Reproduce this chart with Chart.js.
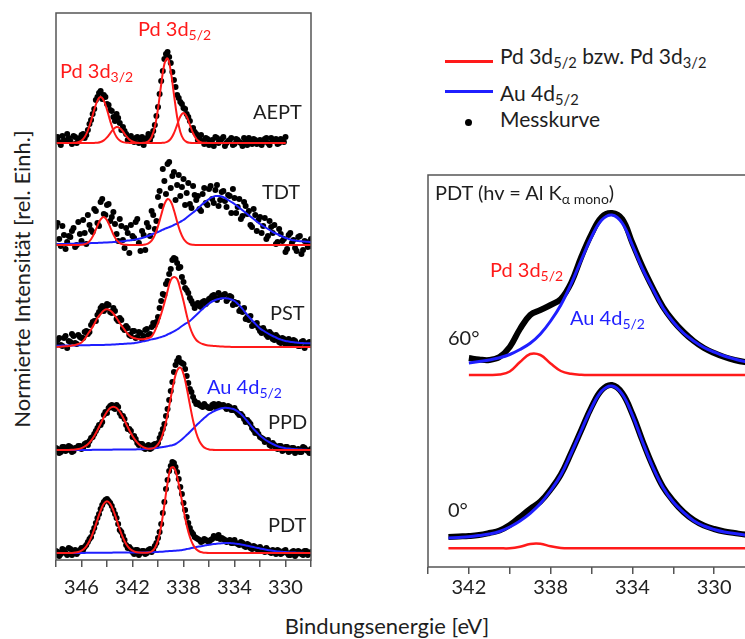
<!DOCTYPE html>
<html lang="de">
<head>
<meta charset="utf-8">
<title>XPS Pd 3d / Au 4d</title>
<script src="https://cdn.jsdelivr.net/npm/chart.js@4.4.1/dist/chart.umd.min.js"></script>
<style>
  html, body { margin: 0; padding: 0; width: 745px; height: 639px; overflow: hidden; background: #fff; }
  body { position: relative; font-family: Lato, "Open Sans", sans-serif; color: #1e1e1e; }
  canvas { position: absolute; }
  #left { left: 47px; top: 8px; }
  #right { left: 423px; top: 170px; }
  .t { position: absolute; white-space: nowrap; font-size: 20px; line-height: 20px; }
  .t sub { font-size: 0.7em; vertical-align: -0.3em; line-height: 0; }
  .lg { font-size: 21px; line-height: 21px; }
  .red { color: #ff1a1a; }
  .blue { color: #1f1fff; }
  .bar { position: absolute; height: 3px; width: 48px; left: 445px; }
  #ytitle { position: absolute; left: -178px; top: 268px; width: 400px; text-align: center;
            font-size: 22px; line-height: 22px; transform: rotate(-90deg); }
  #xtitle { position: absolute; left: 187px; top: 615px; width: 400px; text-align: center;
            font-size: 22px; line-height: 22px; }
</style>
</head>
<body>
<canvas id="left" width="273" height="592"></canvas>
<canvas id="right" width="337" height="437"></canvas>

<div id="ytitle">Normierte Intensität [rel. Einh.]</div>
<div id="xtitle">Bindungsenergie [eV]</div>

<!-- linke Seite -->
<div class="t red" style="left:138px; top:18px">Pd 3d<sub>5/2</sub></div>
<div class="t red" style="left:60px; top:60px">Pd 3d<sub>3/2</sub></div>
<div class="t" style="left:253px; top:101px">AEPT</div>
<div class="t" style="left:262px; top:181px">TDT</div>
<div class="t" style="left:270px; top:302px">PST</div>
<div class="t blue" style="left:207px; top:376px">Au 4d<sub>5/2</sub></div>
<div class="t" style="left:268px; top:411px">PPD</div>
<div class="t" style="left:268px; top:514px">PDT</div>

<!-- Legende -->
<div class="bar" style="top:60px; background:#ff1a1a"></div>
<div class="bar" style="top:90px; background:#1f1fff"></div>
<div style="position:absolute; left:465px; top:119px; width:7px; height:7px; border-radius:50%; background:#000"></div>
<div class="t lg" style="left:500px; top:45px">Pd 3d<sub>5/2</sub> bzw. Pd 3d<sub>3/2</sub></div>
<div class="t lg" style="left:500px; top:82px">Au 4d<sub>5/2</sub></div>
<div class="t lg" style="left:500px; top:108px">Messkurve</div>

<!-- rechte Seite -->
<div class="t" style="left:435px; top:182px">PDT (hv = Al K<sub>α mono</sub>)</div>
<div class="t red" style="left:490px; top:259px">Pd 3d<sub>5/2</sub></div>
<div class="t blue" style="left:570px; top:307px">Au 4d<sub>5/2</sub></div>
<div class="t" style="left:448px; top:327px">60°</div>
<div class="t" style="left:448px; top:499px">0°</div>

<script>
// Bindungsenergie (eV), linke Seite: 348 ... 328 in 0.25er Schritten
const energyLeft = [348,
  347.75, 347.5, 347.25, 347, 346.75, 346.5, 346.25, 346,
  345.75, 345.5, 345.25, 345, 344.75, 344.5, 344.25, 344,
  343.75, 343.5, 343.25, 343, 342.75, 342.5, 342.25, 342,
  341.75, 341.5, 341.25, 341, 340.75, 340.5, 340.25, 340,
  339.75, 339.5, 339.25, 339, 338.75, 338.5, 338.25, 338,
  337.75, 337.5, 337.25, 337, 336.75, 336.5, 336.25, 336,
  335.75, 335.5, 335.25, 335, 334.75, 334.5, 334.25, 334,
  333.75, 333.5, 333.25, 333, 332.75, 332.5, 332.25, 332,
  331.75, 331.5, 331.25, 331, 330.75, 330.5, 330.25, 330,
  329.75, 329.5, 329.25, 329, 328.75, 328.5, 328.25, 328];

// Zwischenpunkte der Messkurven
const energyHalf = [
  347.875, 347.625, 347.375, 347.125, 346.875, 346.625, 346.375, 346.125,
  345.875, 345.625, 345.375, 345.125, 344.875, 344.625, 344.375, 344.125,
  343.875, 343.625, 343.375, 343.125, 342.875, 342.625, 342.375, 342.125,
  341.875, 341.625, 341.375, 341.125, 340.875, 340.625, 340.375, 340.125,
  339.875, 339.625, 339.375, 339.125, 338.875, 338.625, 338.375, 338.125,
  337.875, 337.625, 337.375, 337.125, 336.875, 336.625, 336.375, 336.125,
  335.875, 335.625, 335.375, 335.125, 334.875, 334.625, 334.375, 334.125,
  333.875, 333.625, 333.375, 333.125, 332.875, 332.625, 332.375, 332.125,
  331.875, 331.625, 331.375, 331.125, 330.875, 330.625, 330.375, 330.125,
  329.875, 329.625, 329.375, 329.125, 328.875, 328.625, 328.375, 328.125];

// vertikaler Versatz der einzelnen Spektren
const offsetsLeft = { AEPT: 41.7, TDT: 31.5, PST: 21.3, PPD: 11.0, PDT: 0.7 };

// AEPT (nur bis 330 eV gemessen)
const aeptFitA = [0,
  0, 0, 0, 0,  0.01, 0.03, 0.09, 0.25,  0.6, 1.25, 2.21, 3.32,  4.24, 4.6, 4.24, 3.32,
  2.21, 1.25, 0.6, 0.25,  0.09, 0.03, 0.01, 0,  0, 0, 0.01, 0.04,  0.17, 0.6, 1.6, 3.44,
  5.85, 7.9, 8.46, 7.2,  4.86, 2.6, 1.1, 0.37,  0.1, 0.02, 0, 0,  0, 0, 0, 0,
  0, 0, 0, 0,  0, 0, 0, 0,  0, 0, 0, 0,  0, 0, 0, 0,  0, 0, 0, 0,  0, 0, 0, 0];
const aeptFitB = [0,
  0, 0, 0, 0,  0, 0, 0, 0,  0, 0, 0, 0.01,  0.03, 0.1, 0.26, 0.56,
  0.97, 1.38, 1.59, 1.5,  1.15, 0.71, 0.36, 0.15,  0.05, 0.01, 0, 0,  0, 0, 0, 0,
  0.01, 0.03, 0.13, 0.41,  0.98, 1.82, 2.65, 3.0,  2.65, 1.82, 0.98, 0.41,  0.13, 0.03, 0.01, 0,
  0, 0, 0, 0,  0, 0, 0, 0,  0, 0, 0, 0,  0, 0, 0, 0,  0, 0, 0, 0,  0, 0, 0, 0];
const aeptDots = [0.4,
  0.1, 0.7, 0.2, 0.5,  -0.1, 0.6, 0.3, 0.8,  0.5, 1.3, 2.3, 3.4,  4.6, 5.2, 4.8, 3.9,
  3.3, 2.6, 2.9, 2.0,  1.6, 0.9, 0.6, 0.2,  0.5, 0.0, 0.6, 0.3,  0.9, 0.7, 1.8, 3.6,
  6.2, 8.4, 9.1, 8.0,  6.3, 4.8, 4.1, 3.5,  2.9, 2.2, 1.5, 0.9,  0.6, 0.2, 0.5, -0.2,
  0.3, 0.6, 0.0, 0.4,  -0.3, 0.2, 0.5, -0.1,  0.3, 0.0, 0.5, -0.2,  0.2, 0.4, -0.1, 0.3,
  0.1, 0.5, -0.2, 0.2,  0.4, 0.0, 0.3, 0.6];
const aeptDotsHalf = [
  0.6, -0.2, 0.3, 0.9,  0.2, 0.7, 0.0, 0.5,  0.9, 0.8, 1.9, 2.9,  4.3, 5.0, 4.4, 4.6,
  3.8, 3.2, 2.2, 2.5,  1.3, 1.2, 0.3, 0.7,  0.1, 0.6, 0.2, -0.2,  0.5, 0.3, 1.2, 2.7,
  4.9, 7.2, 8.9, 8.6,  7.1, 5.6, 4.5, 3.9,  3.4, 2.6, 1.3, 1.1,  0.3, 0.8, -0.1, 0.4,
  0.1, -0.3, 0.5, 0.2,  0.6, 0.0, 0.3, -0.2,  0.4, 0.1, -0.3, 0.2,  0.5, -0.1, 0.3, 0.1,
  -0.2, 0.4, 0.0, 0.5,  0.2, -0.1, 0.4, 0.1];

// TDT
const tdtRed = [0,
  0, 0, 0, 0,  0, 0, 0, 0.02,  0.08, 0.23, 0.57, 1.16,  1.92, 2.56, 2.8, 2.48,
  1.79, 1.05, 0.5, 0.19,  0.06, 0.02, 0, 0,  0, 0, 0, 0.05,  0.16, 0.43, 0.99, 1.89,
  3.0, 4.06, 4.6, 4.35,  3.47, 2.33, 1.32, 0.62,  0.25, 0.08, 0.02, 0,  0, 0, 0, 0,
  0, 0, 0, 0,  0, 0, 0, 0,  0, 0, 0, 0,  0, 0, 0, 0,  0, 0, 0, 0,  0, 0, 0, 0,
  0, 0, 0, 0,  0, 0, 0, 0];
const tdtBlue = [0.1,
  0.1, 0.11, 0.11, 0.12,  0.13, 0.14, 0.14, 0.15,  0.16, 0.18, 0.19, 0.2,  0.21, 0.22, 0.24, 0.25,
  0.27, 0.3, 0.32, 0.35,  0.38, 0.42, 0.46, 0.5,  0.56, 0.62, 0.7, 0.8,  0.92, 1.05, 1.18, 1.3,
  1.45, 1.6, 1.72, 1.85,  2.0, 2.15, 2.32, 2.5,  2.75, 3.0, 3.25, 3.5,  3.8, 4.1, 4.35, 4.6,
  4.78, 4.9, 4.9, 4.85,  4.7, 4.5, 4.3, 4.1,  3.85, 3.6, 3.35, 3.1,  2.85, 2.6, 2.35, 2.1,
  1.9, 1.7, 1.5, 1.3,  1.15, 1.0, 0.85, 0.7,  0.6, 0.5, 0.45, 0.4,  0.37, 0.35, 0.32, 0.3];
const tdtDots = [1.8,
  0.6, 1.9, -0.4, 0.9,  1.4, -0.2, 2.3, 0.4,  1.2, 3.0, 1.5, 3.6,  2.2, 4.3, 3.1, 4.0,
  2.4, 3.3, 1.1, 2.6,  0.5, 1.7, -0.8, 0.9,  2.3, 0.2, 1.4, -0.5,  1.8, 3.4, 1.6, 4.8,
  3.9, 6.4, 8.1, 5.7,  7.3, 6.0, 4.9, 6.6,  5.2, 4.1, 5.9, 4.5,  3.6, 5.1, 4.2, 5.6,
  4.6, 5.5, 3.9, 5.3,  4.4, 5.0, 3.2, 4.7,  3.8, 2.6, 4.3, 3.1,  2.0, 3.6, 1.4, 2.8,
  1.9, 0.6, 2.4, 1.2,  0.1, 1.6, 0.4, -0.7,  1.0, 0.2, -0.3, 0.8,  -0.9, 0.4, -0.2, 0.6];
const tdtDotsHalf = [
  2.2, -0.1, 1.0, 0.3,  0.8, 1.7, 0.0, 1.1,  2.5, 0.1, 2.0, 1.3,  3.4, 1.9, 4.6, 3.0,
  4.1, 2.8, 2.1, 0.4,  1.9, -0.3, 1.2, 2.0,  0.7, 2.6, -0.6, 1.0,  2.2, 0.9, 3.0, 2.4,
  5.4, 7.6, 5.1, 8.3,  6.9, 4.5, 7.0, 5.8,  4.0, 6.2, 3.7, 5.0,  4.9, 3.4, 5.7, 4.0,
  5.9, 4.2, 6.0, 4.5,  5.4, 3.8, 4.9, 5.6,  3.2, 4.6, 2.9, 3.9,  3.4, 1.8, 3.0, 2.5,
  1.2, 2.7, 0.9, 1.8,  2.0, 0.3, 1.1, 0.6,  -0.4, 1.2, 0.5, -0.6,  0.9, -0.5, 0.3, -0.1];

// PST
const pstRed = [0,
  0.02, 0.05, 0.07, 0.1,  0.15, 0.2, 0.3, 0.45,  0.8, 1.3, 1.75, 2.3,  2.9, 3.3, 3.65, 3.77,
  3.65, 3.35, 2.9, 2.4,  1.95, 1.5, 1.15, 0.95,  0.85, 0.78, 0.77, 0.82,  0.9, 1.05, 1.6, 2.4,
  3.3, 4.4, 5.6, 6.7,  7.0, 6.8, 5.8, 4.6,  3.2, 2.0, 1.2, 0.7,  0.45, 0.3, 0.2, 0.15,
  0.12, 0.09, 0.07, 0.05,  0.03, 0.02, 0.01, 0,  0, 0, 0, 0,  0, 0, 0, 0,  0, 0, 0, 0,
  0, 0, 0, 0,  0, 0, 0, 0,  0, 0, 0, 0];
const pstBlue = [0.13,
  0.13, 0.14, 0.14, 0.15,  0.15, 0.16, 0.17, 0.17,  0.18, 0.18, 0.19, 0.19,  0.2, 0.21, 0.21, 0.22,
  0.23, 0.25, 0.27, 0.29,  0.31, 0.33, 0.35, 0.37,  0.42, 0.48, 0.54, 0.6,  0.68, 0.76, 0.83, 0.9,
  1.0, 1.1, 1.25, 1.4,  1.57, 1.75, 1.97, 2.2,  2.4, 2.6, 2.9, 3.2,  3.5, 3.8, 4.08, 4.35,
  4.55, 4.7, 4.8, 4.87,  4.88, 4.85, 4.75, 4.6,  4.32, 4.0, 3.6, 3.2,  2.85, 2.5, 2.17, 1.85,
  1.65, 1.45, 1.27, 1.1,  0.95, 0.8, 0.7, 0.6,  0.55, 0.5, 0.46, 0.42,  0.4, 0.38, 0.37, 0.37];
const pstDots = [0.3,
  0.9, 0.1, 1.1, 0.6,  1.3, 0.4, 1.2, 0.9,  1.5, 1.3, 2.2, 2.6,  3.2, 3.9, 3.6, 4.3,
  3.5, 3.9, 2.8, 2.9,  1.9, 2.1, 1.2, 1.6,  0.9, 1.5, 0.8, 1.7,  1.2, 2.0, 2.2, 3.0,
  4.6, 5.2, 6.6, 7.8,  8.9, 8.4, 8.0, 6.5,  5.7, 4.9, 4.3, 4.2,  4.1, 4.5, 4.3, 4.8,
  5.1, 4.9, 5.4, 5.1,  5.3, 4.8, 5.0, 4.5,  4.4, 3.8, 3.9, 3.0,  3.1, 2.3, 2.4, 1.6,
  1.9, 1.2, 1.5, 0.8,  1.2, 0.5, 0.9, 0.3,  0.8, 0.2, 0.6, 0.1,  0.5, -0.1, 0.4, 0.2];
const pstDotsHalf = [
  0.7, 0.2, 0.9, -0.1,  0.5, 1.1, 0.3, 1.0,  0.9, 1.6, 1.5, 2.5,  2.6, 3.5, 4.1, 3.8,
  4.2, 3.4, 3.6, 2.6,  2.7, 1.7, 1.9, 1.1,  1.6, 1.0, 1.4, 1.1,  1.8, 1.3, 2.4, 2.5,
  3.9, 5.3, 6.3, 7.3,  8.7, 8.8, 7.9, 7.0,  5.9, 5.4, 4.6, 3.9,  4.4, 4.0, 4.6, 4.5,
  4.9, 5.2, 4.7, 5.0,  5.2, 4.6, 5.1, 4.2,  4.3, 3.6, 3.5, 2.8,  2.7, 2.1, 2.2, 1.9,
  1.4, 1.6, 1.0, 1.3,  0.7, 1.0, 0.4, 0.8,  0.5, 0.2, 0.7, 0.3,  0.1, 0.6, 0.2, 0.5];

// PPD
const ppdRed = [0,
  0, 0, 0, 0,  0.02, 0.05, 0.1, 0.19,  0.35, 0.58, 0.94, 1.41,  1.98, 2.63, 3.27, 3.82,
  4.2, 4.33, 4.2, 3.82,  3.27, 2.63, 1.98, 1.41,  0.94, 0.58, 0.35, 0.2,  0.13, 0.14, 0.25, 0.56,
  1.15, 2.14, 3.55, 5.23,  6.84, 7.96, 8.25, 7.6,  6.23, 4.54, 2.94, 1.7,  0.87, 0.4, 0.16, 0.06,
  0.02, 0, 0, 0,  0, 0, 0, 0,  0, 0, 0, 0,  0, 0, 0, 0,  0, 0, 0, 0,  0, 0, 0, 0,
  0, 0, 0, 0,  0, 0, 0, 0];
const ppdBlue = [0,
  0, 0, 0, 0,  0, 0, 0, 0,  0.01, 0.01, 0.01, 0.02,  0.02, 0.02, 0.03, 0.03,
  0.03, 0.04, 0.04, 0.04,  0.05, 0.05, 0.05, 0.05,  0.06, 0.07, 0.08, 0.1,  0.12, 0.15, 0.18, 0.22,
  0.27, 0.33, 0.38, 0.44,  0.52, 0.7, 0.93, 1.2,  1.5, 1.8, 2.12, 2.45,  2.75, 3.05, 3.33, 3.6,
  3.78, 3.95, 4.07, 4.17,  4.22, 4.2, 4.14, 4.05,  3.86, 3.6, 3.27, 2.9,  2.5, 2.1, 1.77, 1.45,
  1.19, 0.95, 0.77, 0.6,  0.45, 0.32, 0.25, 0.18,  0.14, 0.11, 0.08, 0.06,  0.04, 0.02, 0.01, 0];
const ppdDots = [0.2,
  -0.3, 0.3, -0.1, 0.4,  -0.2, 0.2, 0.4, 0.1,  0.6, 0.5, 1.2, 1.6,  2.2, 2.5, 3.5, 3.7,
  4.4, 4.2, 4.5, 3.7,  3.4, 2.5, 2.1, 1.3,  1.1, 0.5, 0.6, 0.1,  0.5, 0.2, 0.6, 0.7,
  1.6, 2.6, 4.1, 5.9,  7.8, 8.9, 8.8, 8.6,  7.4, 6.1, 5.3, 4.6,  4.5, 4.3, 4.4, 4.2,
  4.5, 4.3, 4.6, 4.4,  4.3, 4.4, 4.0, 4.2,  3.7, 3.6, 3.1, 3.0,  2.6, 2.0, 1.9, 1.3,
  1.1, 0.9, 0.5, 0.7,  0.2, 0.4, -0.1, 0.3,  -0.2, 0.2, -0.3, 0.1,  -0.2, 0.2, -0.1, 0.1];
const ppdDotsHalf = [
  0.1, -0.2, 0.3, 0.0,  0.3, -0.1, 0.2, 0.4,  0.2, 0.7, 0.9, 1.3,  1.9, 2.5, 2.8, 3.8,
  4.2, 4.5, 4.1, 4.3,  3.4, 3.1, 2.1, 1.9,  1.4, 0.7, 0.6, 0.2,  0.4, 0.1, 0.5, 0.4,
  1.2, 2.1, 3.4, 5.0,  6.8, 8.5, 9.2, 8.7,  8.1, 6.7, 5.8, 4.9,  4.7, 4.4, 4.6, 4.3,
  4.2, 4.6, 4.3, 4.5,  4.5, 4.1, 4.3, 4.0,  3.9, 3.5, 3.4, 2.8,  2.8, 2.2, 1.7, 1.6,
  1.2, 0.8, 1.0, 0.4,  0.5, 0.1, 0.4, 0.0,  0.3, -0.1, 0.2, 0.0,  -0.2, 0.3, 0.0, -0.3];

// PDT
const pdtRed = [0,
  0, 0, 0, 0,  0.01, 0.04, 0.1, 0.23,  0.47, 0.89, 1.53, 2.37,  3.33, 4.25, 4.92, 5.17,
  4.92, 4.25, 3.33, 2.37,  1.53, 0.89, 0.47, 0.23,  0.1, 0.04, 0.02, 0.02,  0.05, 0.15, 0.48, 1.26,
  2.7, 4.8, 7.0, 8.48,  8.54, 7.63, 6.1, 4.36,  2.78, 1.6, 0.82, 0.37,  0.15, 0.06, 0.02, 0,
  0, 0, 0, 0,  0, 0, 0, 0,  0, 0, 0, 0,  0, 0, 0, 0,  0, 0, 0, 0,  0, 0, 0, 0,
  0, 0, 0, 0,  0, 0, 0, 0];
const pdtBlue = [0,
  0, 0, 0, 0,  0.01, 0.01, 0.01, 0.01,  0.01, 0.02, 0.02, 0.02,  0.02, 0.03, 0.03, 0.03,
  0.03, 0.04, 0.04, 0.04,  0.05, 0.05, 0.05, 0.05,  0.05, 0.06, 0.06, 0.06,  0.07, 0.07, 0.09, 0.11,
  0.13, 0.15, 0.18, 0.2,  0.22, 0.25, 0.27, 0.33,  0.39, 0.45, 0.52, 0.6,  0.66, 0.71, 0.77, 0.83,
  0.87, 0.91, 0.95, 0.98,  1.0, 1.0, 0.98, 0.96,  0.91, 0.86, 0.8, 0.73,  0.66, 0.59, 0.52, 0.46,
  0.39, 0.33, 0.27, 0.22,  0.18, 0.15, 0.12, 0.09,  0.07, 0.05, 0.04, 0.03,  0.02, 0.01, 0, 0];
const pdtDots = [0.2,
  -0.3, 0.4, 0.0, 0.5,  -0.2, 0.3, 0.1, 0.5,  0.6, 1.1, 1.6, 2.5,  3.5, 4.4, 5.1, 5.4,
  5.0, 4.3, 3.5, 2.3,  1.7, 0.8, 0.6, 0.1,  0.3, -0.2, 0.2, -0.1,  0.3, 0.1, 0.7, 1.5,
  2.9, 5.1, 7.3, 8.7,  9.0, 8.1, 6.6, 5.0,  3.6, 2.5, 1.9, 1.5,  1.3, 1.2, 1.3, 1.1,
  1.4, 1.6, 1.8, 1.5,  1.3, 1.2, 1.0, 1.3,  0.9, 1.1, 0.7, 0.9,  0.5, 0.7, 0.4, 0.6,
  0.2, 0.5, 0.1, 0.3,  -0.1, 0.2, 0.0, 0.3,  -0.2, 0.1, -0.3, 0.2,  -0.1, 0.2, -0.2, 0.1];
const pdtDotsHalf = [
  0.1, -0.1, 0.3, -0.2,  0.4, 0.0, -0.1, 0.3,  0.3, 0.8, 1.4, 2.1,  3.0, 3.9, 4.8, 5.3,
  5.2, 4.7, 3.9, 2.9,  2.1, 1.3, 0.5, 0.4,  -0.1, 0.3, 0.0, 0.2,  0.0, 0.4, 0.3, 1.0,
  2.1, 4.0, 6.4, 8.2,  9.1, 8.6, 7.4, 5.9,  4.3, 3.0, 2.1, 1.6,  1.4, 1.1, 1.4, 1.2,
  1.3, 1.7, 1.5, 1.4,  1.4, 1.1, 1.3, 1.0,  1.0, 0.8, 1.0, 0.6,  0.8, 0.4, 0.6, 0.3,
  0.4, 0.1, 0.3, 0.0,  0.1, 0.3, -0.1, 0.2,  0.0, -0.2, 0.2, -0.1,  0.1, -0.2, 0.2, 0.0];

// rechte Seite: PDT, Al K alpha mono, 60° und 0°
const energyRight = [343, 342.5, 342, 341.5, 341, 340.5, 340, 339.5, 339, 338.5, 338,
  337.5, 337, 336.5, 336, 335.5, 335, 334.5, 334, 333.5, 333, 332.5, 332,
  331.5, 331, 330.5, 330, 329.5, 329, 328.5, 328];
const offsetsRight = { black60: 20.4, red60: 19.2, black0: 2.9, red0: 1.87 };

const meas60 = [null, null, 0.5, 0.35, 0.3, 0.6, 1.6, 3.4, 4.8, 5.3, 5.8,
  6.4, 8.0, 10.6, 12.9, 14.6, 15.0, 14.4, 12.0, 9.6, 7.5, 5.6, 4.2,
  3.1, 2.2, 1.5, 1.0, 0.6, 0.3, 0.1, 0.0];
const blue60 = [null, null, 0.0, 0.15, 0.3, 0.52, 0.85, 1.35, 1.97, 2.9, 4.2,
  5.8, 7.9, 10.3, 12.6, 14.3, 14.8, 14.0, 11.8, 9.4, 7.4, 5.5, 4.1,
  3.0, 2.2, 1.55, 1.1, 0.7, 0.4, 0.15, 0.05];
const red60 = [null, null, 0, 0, 0, 0.05, 0.35, 1.3, 2.1, 2.0, 1.15,
  0.4, 0.12, 0.02, 0, 0, 0, 0, 0, 0, 0, 0, 0,
  0, 0, 0, 0, 0, 0, 0, 0];

const meas0 = [0.1, 0.15, 0.2, 0.3, 0.5, 0.75, 1.3, 2.1, 2.9, 3.65, 4.85,
  6.35, 8.5, 10.8, 13.1, 14.8, 15.3, 14.5, 12.4, 9.7, 7.2, 5.1, 3.7,
  2.6, 1.8, 1.25, 0.9, 0.65, 0.5, 0.35, 0.3];
const blue0 = [0, 0.06, 0.13, 0.25, 0.4, 0.65, 1.1, 1.7, 2.47, 3.45, 4.75,
  6.3, 8.45, 10.75, 13.0, 14.7, 15.2, 14.4, 12.3, 9.6, 7.1, 5.05, 3.6,
  2.57, 1.72, 1.2, 0.85, 0.6, 0.45, 0.3, 0.25];
const red0 = [0, 0, 0, 0, 0, 0, 0, 0.15, 0.43, 0.45, 0.2,
  0.04, 0, 0, 0, 0, 0, 0, 0, 0, 0, 0, 0,
  0, 0, 0, 0, 0, 0, 0, 0];

const RED = '#ff1a1a';
const BLUE = '#1f1fff';

function points(energies, values, offset) {
  const out = [];
  values.forEach((v, i) => {
    if (v !== null) out.push({ x: energies[i], y: v + offset });
  });
  return out;
}

function fit(energies, values, offset, color, width) {
  return {
    data: points(energies, values, offset),
    borderColor: color,
    borderWidth: width,
    pointRadius: 0,
    tension: 0.4,
    fill: false,
    order: 0,
  };
}

function dots(energies, values, offset) {
  return {
    data: points(energies, values, offset),
    showLine: false,
    pointRadius: 3,
    pointBackgroundColor: '#000',
    pointBorderWidth: 0,
    order: 1,
  };
}

const framePlugin = {
  id: 'frame',
  afterDraw(chart) {
    const { ctx, chartArea: a } = chart;
    ctx.save();
    ctx.strokeStyle = '#555';
    ctx.lineWidth = 1.5;
    ctx.strokeRect(a.left, a.top, a.right - a.left, a.bottom - a.top);
    ctx.restore();
  }
};

function xAxis(min, max, pad) {
  return {
    type: 'linear',
    reverse: true,
    min: min,
    max: max,
    afterFit: (scale) => { scale.height = 40; },
    border: { display: false },
    grid: { display: true, drawOnChartArea: false, drawTicks: true, tickLength: 7, color: '#555', lineWidth: 1.5 },
    ticks: {
      stepSize: 2,
      autoSkip: false,
      maxRotation: 0,
      padding: pad,
      color: '#222',
      font: { size: 20 },
      callback: (v) => ((v - 330) % 4 === 0 ? String(v) : ''),
    },
  };
}

function baseOptions(xMin, xMax, yMax, pad) {
  return {
    responsive: false,
    animation: false,
    events: [],
    layout: { padding: { left: 5, right: 5, top: 5, bottom: 0 } },
    plugins: { legend: { display: false }, tooltip: { enabled: false } },
    scales: {
      x: xAxis(xMin, xMax, pad),
      y: { display: false, min: 0, max: yMax },
    },
  };
}

// linke Seite: fünf Spektren übereinander
function leftPanel() {
  const o = offsetsLeft;
  new Chart(document.getElementById('left'), {
    type: 'line',
    data: {
      datasets: [
        fit(energyLeft, aeptFitA, o.AEPT, RED, 2),
        fit(energyLeft, aeptFitB, o.AEPT, RED, 2),
        fit(energyLeft, tdtRed, o.TDT, RED, 2),
        fit(energyLeft, tdtBlue, o.TDT, BLUE, 2),
        fit(energyLeft, pstRed, o.PST, RED, 2),
        fit(energyLeft, pstBlue, o.PST, BLUE, 2),
        fit(energyLeft, ppdRed, o.PPD, RED, 2),
        fit(energyLeft, ppdBlue, o.PPD, BLUE, 2),
        fit(energyLeft, pdtRed, o.PDT, RED, 2),
        fit(energyLeft, pdtBlue, o.PDT, BLUE, 2),
        dots(energyLeft, aeptDots, o.AEPT),
        dots(energyHalf, aeptDotsHalf, o.AEPT),
        dots(energyLeft, tdtDots, o.TDT),
        dots(energyHalf, tdtDotsHalf, o.TDT),
        dots(energyLeft, pstDots, o.PST),
        dots(energyHalf, pstDotsHalf, o.PST),
        dots(energyLeft, ppdDots, o.PPD),
        dots(energyHalf, ppdDotsHalf, o.PPD),
        dots(energyLeft, pdtDots, o.PDT),
        dots(energyHalf, pdtDotsHalf, o.PDT),
      ],
    },
    options: baseOptions(328, 348, 54.7, 9),
    plugins: [framePlugin],
  });
}

// rechte Seite: PDT unter 60° und 0°
function rightPanel() {
  const o = offsetsRight;
  const meas = (values, offset) => ({
    data: points(energyRight, values, offset),
    borderColor: '#000',
    borderWidth: 6,
    pointRadius: 0,
    tension: 0.4,
    order: 1,
  });
  new Chart(document.getElementById('right'), {
    type: 'line',
    data: {
      datasets: [
        fit(energyRight, blue60, o.black60, BLUE, 3),
        fit(energyRight, red60, o.red60, RED, 2.5),
        fit(energyRight, blue0, o.black0, BLUE, 3),
        fit(energyRight, red0, o.red0, RED, 2.5),
        meas(meas60, o.black60),
        meas(meas0, o.black0),
      ],
    },
    options: baseOptions(328, 344, 39.2, 2),
    plugins: [framePlugin],
  });
}

function main() {
  Chart.defaults.font.family = 'Lato';
  Chart.defaults.color = '#222';
  leftPanel();
  rightPanel();
}

if (document.fonts && document.fonts.load) {
  document.fonts.load('20px Lato').then(main, main);
} else {
  main();
}
</script>
</body>
</html>
